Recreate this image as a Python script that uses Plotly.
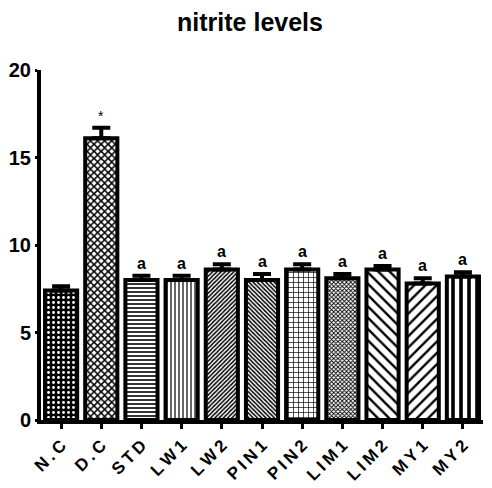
import plotly.graph_objects as go

T = "\u2009"
categories = [T.join("N.C"), T.join("D.C"), T.join("STD"), T.join("LW1"), T.join("LW2"),
              T.join("PIN1"), T.join("PIN2"), T.join("LIM1"), T.join("LIM2"), T.join("MY1"), T.join("MY2")]
values = [7.4, 16.1, 8.0, 8.0, 8.6, 8.0, 8.6, 8.1, 8.6, 7.8, 8.2]
errors = [0.25, 0.6, 0.25, 0.25, 0.3, 0.35, 0.3, 0.25, 0.2, 0.3, 0.25]
annotations_text = ["", "*", "a", "a", "a", "a", "a", "a", "a", "a", "a"]
pattern_shapes = [".", "x", "-", "|", "/", "\\", "+", "x", "\\", "/", "|"]
pattern_fg = ["white", "black", "black", "black", "black", "black", "black", "black", "black", "black", "black"]
pattern_bg = ["black", "white", "white", "white", "white", "white", "white", "white", "white", "white", "white"]
pattern_size = [5, 5, 4, 4, 3, 3, 5, 3, 8, 8, 8]
pattern_solidity = [0.25, 0.5, 0.4, 0.3, 0.5, 0.5, 0.25, 0.5, 0.3, 0.3, 0.45]

fig = go.Figure()
fig.add_trace(go.Bar(
    x=categories, y=values,
    marker=dict(
        color="white",
        line=dict(color="black", width=4),
        pattern=dict(shape=pattern_shapes, fgcolor=pattern_fg, bgcolor=pattern_bg,
                     size=pattern_size, solidity=pattern_solidity, fillmode="replace"),
    ),
    error_y=dict(type="data", symmetric=False, array=errors, arrayminus=[0]*len(errors),
                 color="black", thickness=4, width=9),
    showlegend=False,
))

for c, v, e, t in zip(categories, values, errors, annotations_text):
    if t:
        fig.add_annotation(x=c, y=v + e, text=t, showarrow=False, yanchor="bottom", yshift=2,
                           font=dict(family="Liberation Sans", size=16 if t == "a" else 14,
                                     color="black", weight="bold" if t == "a" else "normal"))

fig.update_layout(
    width=484, height=480,
    margin=dict(l=33, r=9, t=62, b=68),
    plot_bgcolor="white", paper_bgcolor="white",
    bargap=0.2,
    title=dict(text="nitrite levels", x=0.5, xanchor="center", y=0.97, yanchor="middle",
               font=dict(family="Liberation Sans", size=25, color="black", weight="bold")),
    font=dict(family="Liberation Sans", color="black"),
)
fig.update_xaxes(
    range=[-0.5, 10.5], showline=True, linecolor="black", linewidth=4,
    ticks="outside", ticklen=5, tickwidth=3, tickcolor="black",
    tickangle=-45, tickfont=dict(family="Liberation Sans", size=17, color="black", weight="bold"),
    showgrid=False, zeroline=False, automargin=False,
)
fig.update_yaxes(
    range=[0, 20], tickvals=[0, 5, 10, 15, 20], showline=True, linecolor="black", linewidth=4,
    ticks="outside", ticklen=2, tickwidth=3, tickcolor="black",
    tickfont=dict(family="Liberation Sans", size=20, color="black", weight="bold"),
    showgrid=False, zeroline=False, automargin=False,
)

fig.write_html("out.html")
